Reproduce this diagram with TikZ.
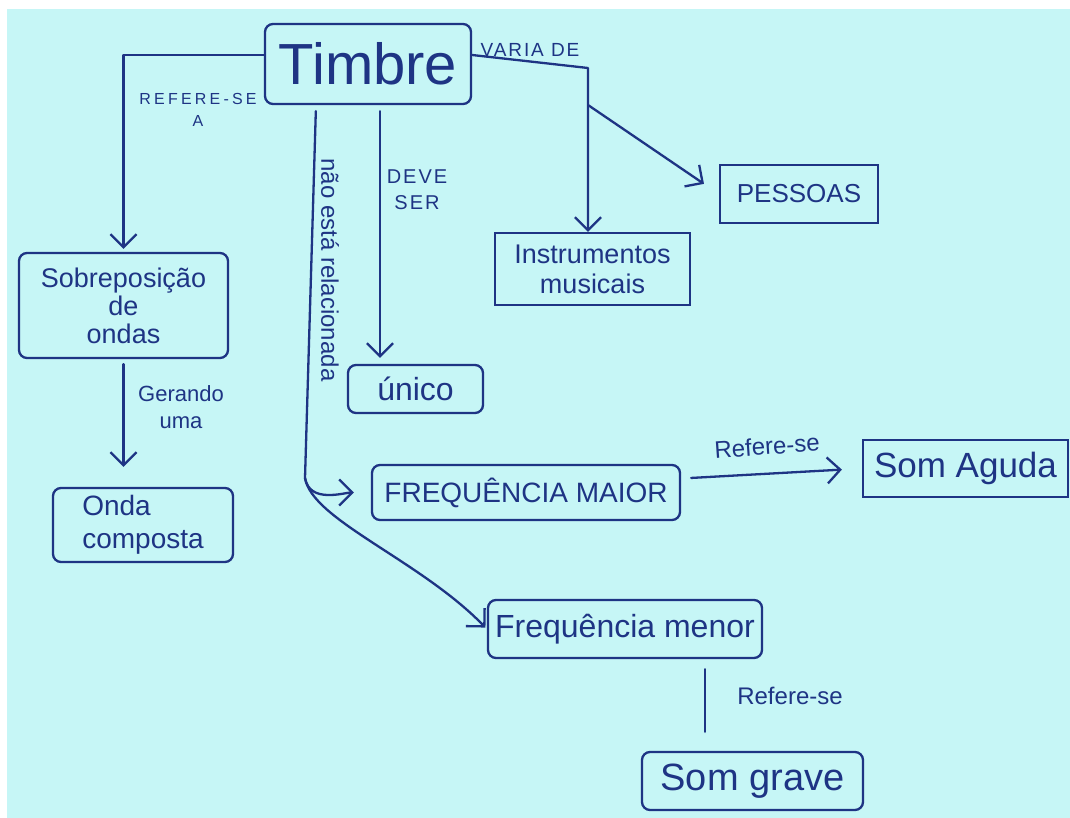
\documentclass[tikz,border=0pt]{standalone}
\usepackage{fontspec}
\setmainfont{Liberation Sans}
\usetikzlibrary{arrows.meta}
\definecolor{paper}{RGB}{198,246,246}
\definecolor{ink}{RGB}{30,52,132}
\begin{document}
\begin{tikzpicture}[x=1pt,y=-1pt,
  rbox/.style={draw=ink, line width=2.3pt, text=ink, rounded corners=8pt, inner sep=2pt},
  sbox/.style={draw=ink, line width=2.3pt, text=ink, inner sep=2pt},
  lbl/.style={text=ink, align=center, inner sep=0pt},
  conn/.style={draw=ink, line width=2.3pt, line cap=round, line join=round},
  arr/.style={conn, -{Straight Barb[length=13pt,width=26pt]}}]
\useasboundingbox (0,0) rectangle (1070,818);
\fill[white] (0,0) rectangle (1070,818);
\fill[paper] (7,9) rectangle (1070,818);

% concept nodes
\node[rbox, minimum width=206pt, minimum height=80pt, font=\fontsize{58}{62}\selectfont] (timbre) at (368,64) {Timbre};
\node[rbox, minimum width=209pt, minimum height=105pt, font=\fontsize{27}{28}\selectfont, align=center] (sobre) at (123.5,305.5) {Sobreposição\\de\\ondas};
\node[rbox, minimum width=180pt, minimum height=74pt, font=\fontsize{28}{33}\selectfont, align=left] (onda) at (143,525) {Onda\\composta};
\node[rbox, minimum width=135pt, minimum height=48pt, font=\fontsize{32}{36}\selectfont] (unico) at (415.5,389) {único};
\node[sbox, minimum width=195pt, minimum height=72pt, font=\fontsize{27}{30}\selectfont, align=center] (instr) at (592.5,269) {Instrumentos\\musicais};
\node[sbox, minimum width=158pt, minimum height=58pt, font=\fontsize{26}{30}\selectfont] (pessoas) at (799,194) {PESSOAS};
\node[rbox, minimum width=308pt, minimum height=55pt, font=\fontsize{28}{32}\selectfont] (fmaior) at (526,492.5) {FREQUÊNCIA MAIOR};
\node[rbox, minimum width=274pt, minimum height=58pt, font=\fontsize{32}{36}\selectfont] (fmenor) at (625,629) {Frequência menor};
\node[sbox, minimum width=205pt, minimum height=57pt, font=\fontsize{35}{38}\selectfont] (aguda) at (965.5,468.5) {Som Aguda};
\node[rbox, minimum width=221pt, minimum height=58pt, font=\fontsize{38}{40}\selectfont] (grave) at (752.5,781) {Som grave};

% link labels
\node[lbl, font=\fontsize{16}{22}\selectfont\addfontfeature{LetterSpace=20}] (lref) at (198,110) {REFERE-SE\\A};
\node[lbl, font=\fontsize{22}{27}\selectfont] (lger) at (181,407) {Gerando\\uma};
\node[lbl, font=\fontsize{20}{26}\selectfont\addfontfeature{LetterSpace=10}] (ldeve) at (417,190) {DEVE\\SER};
\node[lbl, font=\fontsize{19}{22}\selectfont\addfontfeature{LetterSpace=10}] (lvar) at (530,50) {VARIA DE};
\node[lbl, rotate=-90, font=\fontsize{24}{28}\selectfont] (lnao) at (330,270) {não está relacionada};
\node[lbl, rotate=4, font=\fontsize{24}{28}\selectfont] (lref2) at (767,446) {Refere-se};
\node[lbl, font=\fontsize{24}{28}\selectfont] (lref3) at (790,696) {Refere-se};

% helper coordinates
\coordinate (split) at (305,478);
\coordinate (vcorner) at (588,68);
\coordinate (vbranch) at (588,105);

% connectors
\draw[arr, shorten >=3pt] ([yshift=9pt]timbre.west) -| (sobre.north);
\draw[arr, shorten <=5pt, shorten >=20pt] (sobre.south) -- (sobre.south |- onda.north);
\draw[arr, shorten <=6pt, shorten >=6pt] ([xshift=12pt]timbre.south) -- ([xshift=12pt]timbre.south |- unico.north);
\draw[conn, shorten <=6pt] ([xshift=-52pt]timbre.south) -- (split);
\draw[arr, shorten >=17pt] (split) to[out=-80,in=180] (fmaior.west);
\draw[arr, shorten >=2pt] (split) .. controls (312,520) and (420,560) .. (fmenor.west);
\draw[arr] ([yshift=9pt]timbre.east) -- (vcorner) -- (vcorner |- instr.north);
\draw[arr, shorten >=18pt] (vbranch) -- (pessoas.west);
\draw[arr, shorten <=10pt, shorten >=20pt] ([yshift=14pt]fmaior.east) -- (aguda.west);
\draw[conn, shorten <=10pt, shorten >=19pt] ([xshift=80pt]fmenor.south) -- ([xshift=80pt]fmenor.south |- grave.north);
\end{tikzpicture}
\end{document}
